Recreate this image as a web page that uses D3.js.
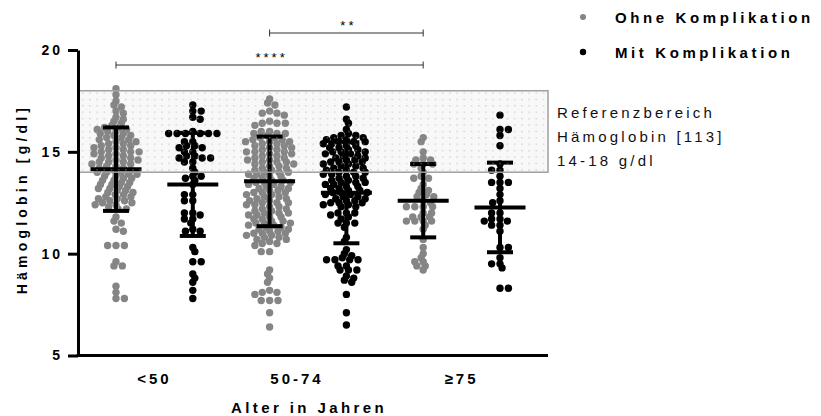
<!DOCTYPE html>
<html>
<head>
<meta charset="utf-8">
<script src="https://cdn.jsdelivr.net/npm/d3@7"></script>
<style>
  body { margin: 0; background: #fff; }
  text { font-family: "Liberation Sans", Arial, sans-serif; }
</style>
</head>
<body>
<script>
// categories, series, tick labels
var categories = ["<50", "50-74", "≥75"];
var series = ["Ohne Komplikation", "Mit Komplikation"];
var yTicks = [5, 10, 15, 20];
var refRange = [14, 18];
var refLabel = ["Referenzbereich", "Hämoglobin [113]", "14-18 g/dl"];

// Hb values per group
var ohneLt50 = [18.1,17.8,17.5,17.3,17.2,17.0,16.9,16.7,16.6,16.5,16.4,16.3,
  16.2,16.2,16.1,16.1,16.0,16.0,15.9,15.9,15.8,15.8,15.7,15.7,15.6,15.6,15.5,15.5,15.4,15.4,15.3,15.3,15.2,15.2,15.1,15.1,
  15.0,15.0,15.0,14.9,14.9,14.8,14.8,14.7,14.7,14.6,14.6,14.5,14.5,14.5,14.4,14.4,14.3,14.3,14.2,14.2,14.1,14.1,
  14.0,14.0,14.0,13.9,13.9,13.8,13.8,13.7,13.7,13.6,13.6,13.5,13.5,13.4,13.4,13.3,13.3,13.2,13.2,13.1,13.1,
  13.0,13.0,12.9,12.9,12.8,12.8,12.7,12.7,12.6,12.6,12.5,12.5,12.4,12.4,
  12.3,12.2,12.2,11.8,11.6,11.5,11.2,11.1,10.4,10.4,10.4,9.6,9.4,9.4,8.4,8.1,7.8,7.8];
var mitLt50 = [17.3,17.0,17.0,16.7,16.6,16.0,15.9,15.9,15.9,15.9,15.9,15.9,15.5,15.5,15.3,15.3,15.2,15.2,
  15.0,15.0,14.8,14.8,14.7,14.7,14.7,14.5,14.5,14.2,14.0,13.8,13.8,13.7,13.6,13.4,12.9,12.9,12.6,12.6,
  12.0,12.0,11.9,11.7,11.7,11.5,11.2,11.1,11.1,10.3,10.1,9.6,9.6,9.0,8.8,8.6,8.2,7.8];
var ohne50_74 = [17.6,17.4,17.3,17.0,16.9,16.9,16.8,16.5,16.4,16.4,16.4,16.3,16.0,16.0,15.9,15.9,15.9,15.8,
  15.7,15.7,15.6,15.6,15.5,15.5,15.5,15.4,15.4,15.3,15.3,15.2,15.2,15.1,15.1,15.0,15.0,15.0,14.9,14.9,14.8,14.8,
  14.7,14.7,14.6,14.6,14.5,14.5,14.5,14.4,14.4,14.3,14.3,14.2,14.2,14.1,14.1,14.0,14.0,14.0,13.9,13.9,13.8,13.8,
  13.7,13.7,13.6,13.6,13.5,13.5,13.5,13.4,13.4,13.3,13.3,13.2,13.2,13.1,13.1,13.0,13.0,13.0,12.9,12.9,12.8,12.8,
  12.7,12.7,12.6,12.6,12.5,12.5,12.5,12.4,12.4,12.3,12.3,12.2,12.2,12.1,12.1,12.0,12.0,12.0,11.9,11.9,11.8,11.8,
  11.7,11.7,11.6,11.6,11.5,11.5,11.5,11.4,11.4,11.3,11.3,11.2,11.2,11.1,11.1,11.0,11.0,11.0,10.9,10.9,10.8,10.8,
  10.7,10.7,10.6,10.5,10.5,10.4,10.1,10.1,9.2,9.0,8.8,8.6,8.2,8.1,8.1,8.0,7.7,7.7,7.7,7.1,6.4];
var mit50_74 = [17.2,16.6,16.4,16.1,15.9,
  15.8,15.8,15.7,15.7,15.6,15.6,15.5,15.5,15.5,15.4,15.4,15.3,15.3,15.2,15.2,15.1,15.1,15.0,15.0,15.0,14.9,14.9,
  14.8,14.8,14.7,14.7,14.6,14.6,14.5,14.5,14.5,14.4,14.4,14.3,14.3,14.2,14.2,14.1,14.1,14.0,14.0,14.0,13.9,13.9,
  13.8,13.8,13.7,13.7,13.6,13.6,13.5,13.5,13.5,13.4,13.4,13.3,13.3,13.2,13.2,13.1,13.1,13.0,13.0,13.0,12.9,12.9,
  12.8,12.8,12.7,12.7,12.6,12.6,12.5,12.5,12.5,12.4,12.4,12.3,12.3,
  12.0,12.0,12.0,11.9,11.8,11.7,11.5,11.5,11.5,11.3,10.8,10.6,10.2,10.0,9.9,9.8,9.7,9.7,9.7,9.7,9.4,9.4,
  9.2,9.2,9.2,8.9,8.8,8.7,8.6,8.0,7.1,6.5];
var ohneGe75 = [15.7,15.5,15.0,14.7,14.6,14.6,14.4,14.4,14.4,14.2,14.0,13.8,13.7,13.7,13.4,13.2,13.1,13.0,12.9,
  12.8,12.8,12.6,12.5,12.3,12.3,12.3,12.3,12.0,12.0,11.8,11.8,11.8,11.6,11.6,11.6,11.6,11.4,11.2,10.7,10.3,
  10.0,9.8,9.6,9.6,9.4,9.4,9.2];
var mitGe75 = [16.8,16.1,16.1,15.8,15.3,14.4,14.1,14.1,13.8,13.5,13.5,13.5,13.2,12.9,12.6,12.5,12.0,12.0,
  11.7,11.7,11.6,11.6,11.4,11.4,11.1,10.3,10.3,9.8,9.5,9.5,9.3,8.3,8.3];

// mean and SD per group, same order as groups below
var groupMeans = [14.15, 13.4, 13.55, 12.99, 12.6, 12.27];
var groupSDs = [2.05, 2.53, 2.2, 2.48, 1.8, 2.2];

var sigPairs = [["<50", "≥75", "****"], ["50-74", "≥75", "**"]];

var groups = [
  {cat: "<50", s: 0, vals: ohneLt50},
  {cat: "<50", s: 1, vals: mitLt50},
  {cat: "50-74", s: 0, vals: ohne50_74},
  {cat: "50-74", s: 1, vals: mit50_74},
  {cat: "≥75", s: 0, vals: ohneGe75},
  {cat: "≥75", s: 1, vals: mitGe75}
];
groups.forEach(function(g, i) { g.key = g.cat + "|" + g.s; g.mean = groupMeans[i]; g.sd = groupSDs[i]; });

var colors = ["#858585", "#000000"];
var W = 821, H = 416;
var plotL = 78, plotR = 548, plotT = 50, plotB = 355.5;

var svg = d3.select("body").append("svg").attr("width", W).attr("height", H);

var y = d3.scaleLinear().domain([5, 20]).range([plotB, plotT]);
var x = d3.scalePoint().domain(groups.map(function(g){ return g.key; })).range([116, 500]);
var xCat = function(c) { return (x(c + "|0") + x(c + "|1")) / 2; };

// dotted pattern for the reference band
var defs = svg.append("defs");
defs.append("pattern").attr("id", "dots").attr("patternUnits", "userSpaceOnUse")
  .attr("width", 7.2).attr("height", 6.4)
  .append("rect").attr("x", 3).attr("y", 3).attr("width", 1).attr("height", 1).attr("fill", "#a8a8a8");

// band background
svg.append("rect")
  .attr("x", plotL).attr("y", y(refRange[1]))
  .attr("width", plotR - plotL).attr("height", y(refRange[0]) - y(refRange[1]))
  .attr("fill", "#f8f8f8");

// beeswarm layout: wide gap side by side, dots can overlap when shifted vertically
var R = 3.7, DX = 8.4, DY = 4.2;
function hits(q, px, py) {
  var a = (q.x - px) / DX, b = (q.y - py) / DY;
  return a * a + b * b < 0.999;
}
function swarm(vals, cx) {
  var pts = vals.map(function(v){ return {v: v, y: y(v)}; }).sort(function(a, b){ return a.y - b.y; });
  var placed = [];
  pts.forEach(function(p, k) {
    var near = placed.filter(function(q){ return Math.abs(q.y - p.y) < DY; });
    var cands = [cx];
    near.forEach(function(q) {
      var t = (q.y - p.y) / DY;
      var dx = DX * Math.sqrt(1 - t * t);
      cands.push(q.x + dx, q.x - dx);
    });
    var ok = cands.filter(function(c) {
      return near.every(function(q){ return !hits(q, c, p.y); });
    });
    var side = k % 2 ? 1 : -1;
    ok.sort(function(a, b){
      var da = Math.abs(a - cx), db = Math.abs(b - cx);
      if (Math.abs(da - db) > 0.01) return da - db;
      return side * (a - b);
    });
    p.x = ok[0];
    placed.push(p);
  });
  return placed;
}

groups.forEach(function(g) {
  svg.append("g").selectAll("circle")
    .data(swarm(g.vals, x(g.key)))
    .enter().append("circle")
    .attr("cx", function(d){ return d.x; })
    .attr("cy", function(d){ return d.y; })
    .attr("r", R)
    .attr("fill", colors[g.s]);
});

// mean +- SD bars
var bars = svg.append("g").selectAll("g").data(groups).enter().append("g");
bars.append("line")
  .attr("x1", function(d){ return x(d.key); }).attr("x2", function(d){ return x(d.key); })
  .attr("y1", function(d){ return y(d.mean + d.sd); }).attr("y2", function(d){ return y(d.mean - d.sd); })
  .attr("stroke", "#000").attr("stroke-width", 4);
bars.append("line")
  .attr("x1", function(d){ return x(d.key) - 25.5; }).attr("x2", function(d){ return x(d.key) + 25.5; })
  .attr("y1", function(d){ return y(d.mean); }).attr("y2", function(d){ return y(d.mean); })
  .attr("stroke", "#000").attr("stroke-width", 4);
[1, -1].forEach(function(sg) {
  bars.append("line")
    .attr("x1", function(d){ return x(d.key) - 13; }).attr("x2", function(d){ return x(d.key) + 13; })
    .attr("y1", function(d){ return y(d.mean + sg * d.sd); }).attr("y2", function(d){ return y(d.mean + sg * d.sd); })
    .attr("stroke", "#000").attr("stroke-width", 4);
});

// band overlay: dots + border
svg.append("rect")
  .attr("x", plotL).attr("y", y(refRange[1]))
  .attr("width", plotR - plotL).attr("height", y(refRange[0]) - y(refRange[1]))
  .attr("fill", "url(#dots)").attr("stroke", "#a0a0a0").attr("stroke-width", 1.5);

// band label
svg.append("g").selectAll("text").data(refLabel).enter().append("text")
  .attr("x", 557).attr("y", function(d, i){ return 118 + i * 24; })
  .attr("font-size", 15).attr("letter-spacing", 3.2).attr("fill", "#111")
  .text(function(d){ return d; });

// axes
var yAxis = svg.append("g").attr("transform", "translate(" + plotL + ",0)")
  .call(d3.axisLeft(y).tickValues(yTicks).tickSize(10).tickSizeOuter(0).tickPadding(5));
yAxis.select(".domain").attr("stroke-width", 3);
yAxis.selectAll(".tick line").attr("stroke-width", 3);
yAxis.selectAll(".tick text").attr("font-size", 14).attr("font-weight", "bold")
  .attr("letter-spacing", 3).attr("font-family", "Liberation Sans, Arial, sans-serif");

svg.append("line").attr("x1", plotL - 1.5).attr("x2", plotR).attr("y1", plotB).attr("y2", plotB)
  .attr("stroke", "#000").attr("stroke-width", 3);

var labelDx = {"50-74": -11};
svg.append("g").selectAll("text").data(categories).enter().append("text")
  .attr("x", function(d){ return xCat(d) + (labelDx[d] || 0); }).attr("y", 384)
  .attr("text-anchor", "middle").attr("font-size", 15).attr("font-weight", "bold").attr("letter-spacing", 3)
  .text(function(d){ return d; });

svg.append("text").attr("x", 309).attr("y", 413).attr("text-anchor", "middle")
  .attr("font-size", 15).attr("font-weight", "bold").attr("letter-spacing", 3.4)
  .text("Alter in Jahren");

svg.append("text").attr("transform", "translate(27," + 199 + ") rotate(-90)")
  .attr("text-anchor", "middle").attr("font-size", 14).attr("font-weight", "bold").attr("letter-spacing", 4.2)
  .text("Hämoglobin [g/dl]");

// significance brackets
var sig = svg.append("g").selectAll("g").data(sigPairs).enter().append("g");
var sigY = [65, 33];
sig.append("path")
  .attr("d", function(d, i) {
    var x1 = x(d[0] + "|0"), x2 = x(d[1] + "|0"), yy = sigY[i];
    return "M" + x1 + "," + (yy + 3.5) + "V" + (yy - 3.5) + "M" + x1 + "," + yy + "H" + x2 + "M" + x2 + "," + (yy - 3.5) + "V" + (yy + 3.5);
  })
  .attr("fill", "none").attr("stroke", "#333").attr("stroke-width", 1);
sig.append("text")
  .attr("x", function(d){ return (x(d[0] + "|0") + x(d[1] + "|0")) / 2 + 2; })
  .attr("y", function(d, i){ return sigY[i] - 3; })
  .attr("text-anchor", "middle").attr("font-size", 13).attr("letter-spacing", 3)
  .text(function(d){ return d[2]; });

// legend
var leg = svg.append("g").selectAll("g").data(series).enter().append("g")
  .attr("transform", function(d, i){ return "translate(583," + (17 + i * 35) + ")"; });
leg.append("circle").attr("r", function(d, i){ return i ? 3.2 : 3; }).attr("fill", function(d, i){ return colors[i]; });
leg.append("text").attr("x", 32).attr("y", 5.5)
  .attr("font-size", 15).attr("font-weight", "bold").attr("letter-spacing", 3.6)
  .text(function(d){ return d; });
</script>
</body>
</html>
